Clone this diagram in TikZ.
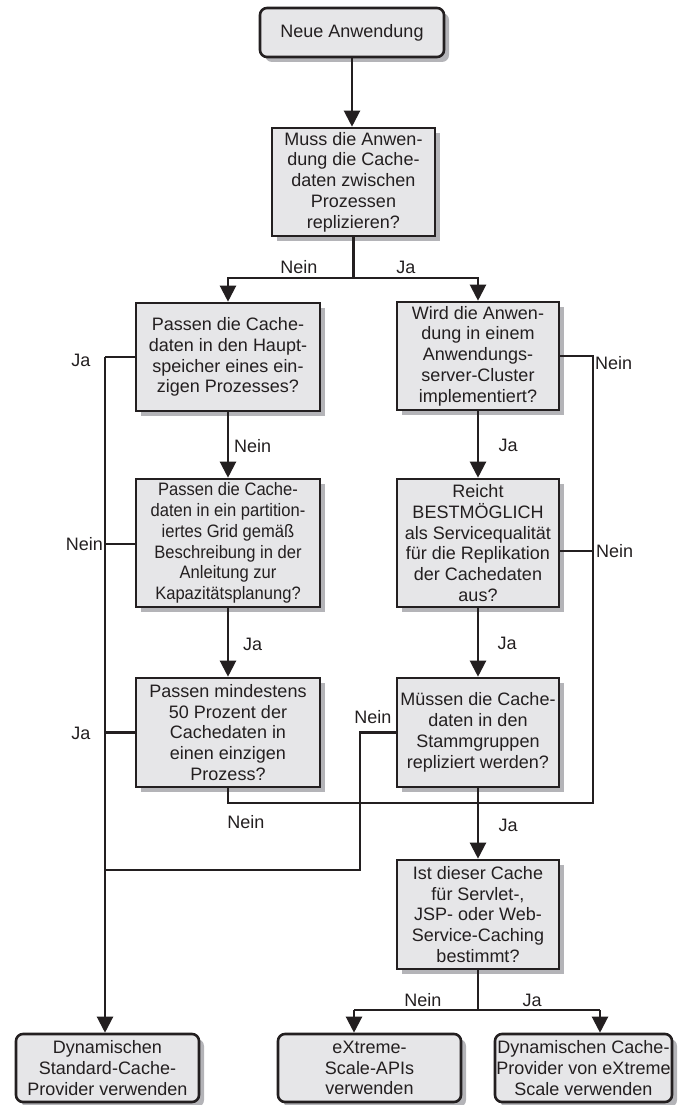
\documentclass[tikz,border=0pt]{standalone}
\usepackage{fontspec}
\setmainfont{Liberation Sans}
\newfontfamily\condensed[FakeStretch=0.92]{Liberation Sans}
\usetikzlibrary{arrows.meta,shadows}
\definecolor{boxfill}{HTML}{E6E6E8}
\definecolor{shade}{HTML}{B4B4B8}
\definecolor{ink}{HTML}{231F20}
\begin{document}
\begin{tikzpicture}[x=1pt,y=-1pt,
  font=\fontsize{18}{20.8}\selectfont,
  box/.style={draw=ink, line width=2.6pt, fill=boxfill, align=center, inner sep=0pt, text=ink,
    general shadow={fill=shade, shadow xshift=5pt, shadow yshift=-5pt}},
  term/.style={box, rounded corners=7pt},
  con/.style={draw=ink, line width=2.2pt},
  arr/.style={con, -{Triangle[length=16pt,width=16pt]}},
  lab/.style={inner sep=0pt, text=ink}]
\useasboundingbox (0,0) rectangle (678,1105);

% boxes
\node[term, minimum width=184pt, minimum height=49pt] (start) at (352,32.5) {Neue Anwendung};
\node[box, minimum width=163pt, minimum height=108pt] (q1) at (353.5,182) {Muss die Anwen-\\dung die Cache-\\daten zwischen\\Prozessen\\replizieren?};
\node[box, minimum width=184pt, minimum height=108pt] (q2) at (228,357) {Passen die Cache-\\daten in den Haupt-\\speicher eines ein-\\zigen Prozesses?};
\node[box, minimum width=184pt, minimum height=128pt, font=\condensed\fontsize{18}{20.8}\selectfont] (q3) at (228,543) {Passen die Cache-\\daten in ein partition-\\iertes Grid gemäß\\Beschreibung in der\\Anleitung zur\\Kapazitätsplanung?};
\node[box, minimum width=184pt, minimum height=109pt] (q4) at (228,732.5) {Passen mindestens\\50 Prozent der\\Cachedaten in\\einen einzigen\\Prozess?};
\node[box, minimum width=162pt, minimum height=108pt] (r1) at (478,356) {Wird die Anwen-\\dung in einem\\Anwendungs-\\server-Cluster\\implementiert?};
\node[box, minimum width=162pt, minimum height=128pt] (r2) at (478,543) {Reicht\\BESTMÖGLICH\\als Servicequalität\\für die Replikation\\der Cachedaten\\aus?};
\node[box, minimum width=162pt, minimum height=109pt] (r3) at (478,732.5) {Müssen die Cache-\\daten in den\\Stammgruppen\\repliziert werden?};
\node[box, minimum width=162pt, minimum height=109pt] (r4) at (478,914.5) {Ist dieser Cache\\für Servlet-,\\JSP- oder Web-\\Service-Caching\\bestimmt?};
\node[term, minimum width=183pt, minimum height=68pt] (e1) at (107.5,1068) {Dynamischen\\Standard-Cache-\\Provider verwenden};
\node[term, minimum width=183pt, minimum height=68pt] (e2) at (369.5,1068) {eXtreme-\\Scale-APIs\\verwenden};
\node[term, minimum width=177pt, minimum height=68pt] (e3) at (583.5,1068) {Dynamischen Cache-\\Provider von eXtreme\\Scale verwenden};

% top
\draw[arr] (start) -- (start |- q1.north);
\coordinate (j1) at (353.5,278);
\draw[con] (q1.south) -- (j1);
\draw[arr] (j1) -| (q2.north);
\draw[arr] (j1) -| (r1.north);
\node[lab] (n1) at (299,267) {Nein};
\node[lab] (y1) at (406,267) {Ja};

% left column
\draw[arr] (q2) -- (q3);
\draw[arr] (q3) -- (q4);
\node[lab, anchor=west] (n2) at (234,446) {Nein};
\node[lab, anchor=west] (y2) at (243,644) {Ja};

\coordinate (t1) at (105,357);
\coordinate (t2) at (105,544);
\coordinate (t3) at (105,732.5);
\coordinate (t4) at (105,870);
\draw[con] (q2.west) -- (t1);
\draw[con] (q3.west |- t2) -- (t2);
\draw[con] (q4.west) -- (t3);
\draw[arr] (t1) -- (t1 |- e1.north);
\node[lab] (y3) at (81,360) {Ja};
\node[lab, anchor=east] (n3) at (103,544) {Nein};
\node[lab] (y4) at (81,733) {Ja};

% right column
\draw[arr] (r1) -- (r2);
\draw[arr] (r2) -- (r3);
\draw[arr] (r3) -- (r4);
\node[lab] (y5) at (508,445) {Ja};
\node[lab] (y6) at (507,643) {Ja};
\node[lab] (y7) at (508,825) {Ja};

\coordinate (s1) at (593,356);
\coordinate (s2) at (593,551);
\coordinate (s3) at (593,803);
\coordinate (s0) at (228,803);
\draw[con] (r1.east) -- (s1) -- (s3) -- (s0) -- (q4.south);
\draw[con] (r2.east |- s2) -- (s2);
\node[lab, anchor=west] (n4) at (595,363) {Nein};
\node[lab, anchor=west] (n5) at (596,551) {Nein};
\node[lab] (n6) at (246,822) {Nein};

\coordinate (u1) at (360,732.5);
\coordinate (u2) at (360,870);
\draw[con] (r3.west) -- (u1) -- (u2) -- (t4);
\node[lab] (n7) at (373,717) {Nein};

% bottom branch
\coordinate (b0) at (478,1010);
\coordinate (b1) at (354,1010);
\coordinate (b2) at (600,1010);
\draw[con] (r4.south) -- (b0);
\draw[con] (b1) -- (b2);
\draw[arr] (b1) -- (b1 |- e2.north);
\draw[arr] (b2) -- (b2 |- e3.north);
\node[lab] (n8) at (423,1000) {Nein};
\node[lab] (y8) at (532,1000) {Ja};
\end{tikzpicture}
\end{document}
